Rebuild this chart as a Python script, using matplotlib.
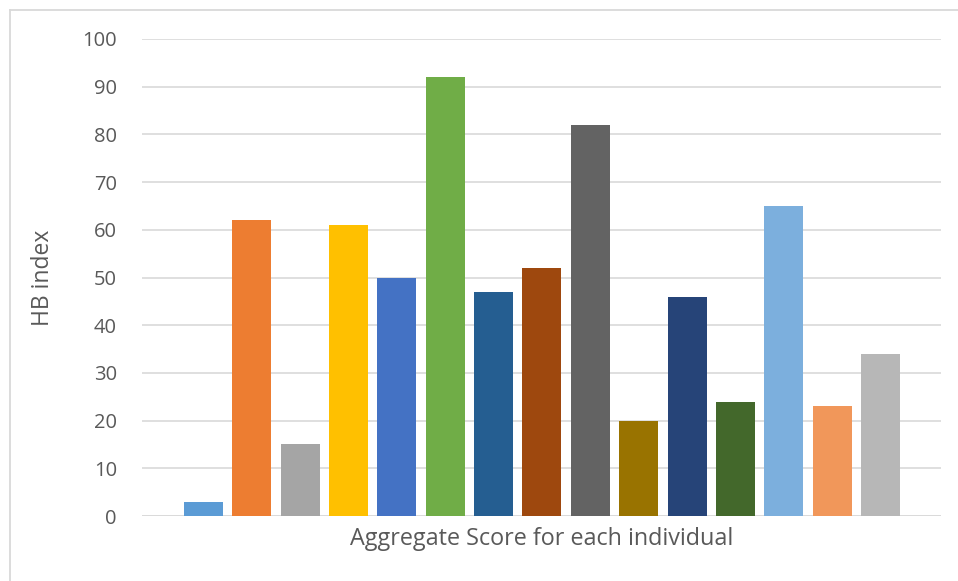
import matplotlib
matplotlib.use("Agg")
import matplotlib.pyplot as plt
from matplotlib.lines import Line2D

values = [3, 62, 15, 61, 50, 92, 47, 52, 82, 20, 46, 24, 65, 23, 34]
colors = ["#5B9BD5", "#ED7D31", "#A5A5A5", "#FFC000", "#4472C4", "#70AD47",
          "#255E91", "#9E480E", "#636363", "#997300", "#264478", "#43682B",
          "#7CAFDD", "#F1975A", "#B7B7B7"]
yticks = [0, 10, 20, 30, 40, 50, 60, 70, 80, 90, 100]
xlabel = "Aggregate Score for each individual"
ylabel = "HB index"

plt.rcParams['font.family'] = ['Open Sans', 'DejaVu Sans']
tc = "#595959"

fig = plt.figure(figsize=(9.58, 5.81), dpi=100)
ax = fig.add_axes([142/958, 65/581, (941-142)/958, (542-65)/581])

x = list(range(len(values)))
ax.bar(x, values, width=0.806, color=colors, zorder=3)
ax.set_xlim(-1.27, 15.25)
ax.set_ylim(0, 100)
ax.set_yticks(yticks)
ax.set_xticks([])
ax.grid(axis='y', color="#D9D9D9", linewidth=1.2, zorder=0)
for s in ax.spines.values():
    s.set_visible(False)
ax.axhline(0, color="#D9D9D9", linewidth=1.8, zorder=2)
ax.tick_params(axis='y', length=0, pad=18, labelsize=14.5, labelcolor=tc)
ax.set_xlabel(xlabel, fontsize=16.8, color=tc, labelpad=8)
ax.set_ylabel(ylabel, fontsize=16.5, color=tc, labelpad=20)

# outer chart border (left and top visible)
fig.add_artist(Line2D([9.5/958, 9.5/958], [0, 1 - 9.5/581], transform=fig.transFigure,
                      color="#D9D9D9", linewidth=1.3))
fig.add_artist(Line2D([9.5/958, 1], [1 - 9.5/581, 1 - 9.5/581], transform=fig.transFigure,
                      color="#D9D9D9", linewidth=1.3))

fig.savefig("out.png", dpi=100, facecolor="white")
